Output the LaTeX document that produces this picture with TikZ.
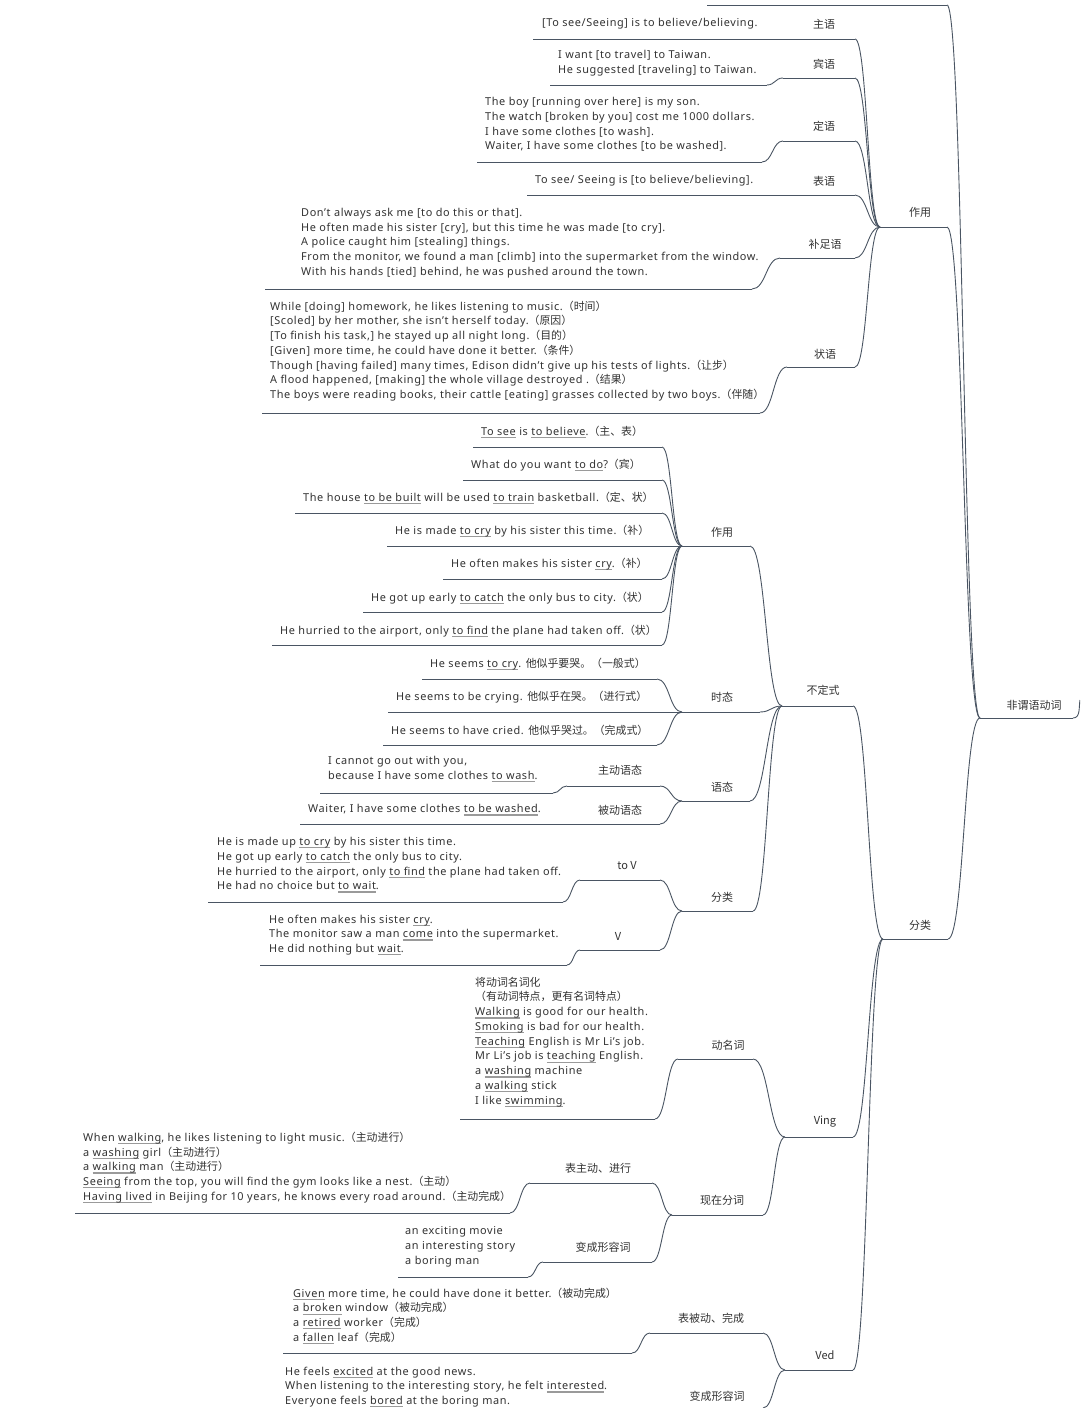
\documentclass[tikz,border=0pt]{standalone}
\usepackage{fontspec}
\setmainfont{Noto Sans}[LetterSpace=5.5]
\newfontfamily\zhf{Noto Sans CJK SC}
\usetikzlibrary{calc}
\definecolor{lnc}{HTML}{4A5563}
\definecolor{txc}{HTML}{333333}
\definecolor{ulc}{HTML}{9A9A9A}
\newcommand\gul[1]{\setbox0\hbox{#1}\rlap{\color{ulc}\rule[-2.8pt]{\wd0}{1.2pt}}\box0\relax}
\newcommand\zh[1]{{\zhf #1}}
\newcommand\fsA{\fontsize{10.9}{14.75}\selectfont}
\newcommand\fsL{\fontsize{11}{13}\selectfont}
\newcommand\mmline[4]{\coordinate (#1L) at (#2,#4); \coordinate (#1R) at (#3,#4); \draw[ln] (#1L) -- (#1R);}
\begin{document}
\begin{tikzpicture}[x=1pt,y=-1pt,
  ln/.style={draw=lnc, line width=0.9pt},
  mm/.style={to path={let \p1=(\tikztostart),\p2=(\tikztotarget),\n1={(\x1+\x2)/2} in .. controls (\n1,\y1) and (\n1,\y2) .. (\tikztotarget)}},
  txt/.style={anchor=west, align=left, inner sep=0pt, font=\fsA, text=txc},
  lab/.style={inner sep=0pt, font=\zhf\fsL, text=txc}]
\useasboundingbox (0,0) rectangle (1080,1408);
\fill[white] (0,0) rectangle (1080,1408);
\clip (0,0) rectangle (1080,1408);

% root
\node[lab] (nroot) at (1034,705) {非谓语动词};
\mmline{rt}{980}{1073}{718}
\coordinate (rtX) at (1080,700);
\draw[ln] (rtR) to[out=0,in=-100] (rtX);

% top cropped branch
\mmline{top}{707}{947}{5}
\draw[ln] (topR) to[mm] (rtL);

% ===== zuoyong (top) =====
\node[lab] (nzyA) at (920,212) {作用};
\mmline{zyA}{880}{947}{227}
\draw[ln] (zyAR) to[mm] (rtL);

% zhuyu
\node[txt] (tzhu) at (542,24) {[To see/Seeing] is to believe/believing.};
\node[lab] (lzhu) at (824,24) {主语};
\mmline{zhu}{533}{855}{39}
\draw[ln] (zhuR) to[mm] (zyAL);

% binyu
\node[txt] (tbin) at (558,63.5) {I want [to travel] to Taiwan.\\He suggested [traveling] to Taiwan.};
\node[lab] (lbin) at (824,64) {宾语};
\mmline{binA}{783}{855}{78}
\mmline{binB}{550}{767}{85}
\draw[ln] (binAR) to[mm] (zyAL);
\draw[ln] (binBR) to[mm] (binAL);

% dingyu
\node[txt] (tding) at (485,124.5) {The boy [running over here] is my son.\\The watch [broken by you] cost me 1000 dollars.\\I have some clothes [to wash].\\Waiter, I have some clothes [to be washed].};
\node[lab] (lding) at (824,126) {定语};
\mmline{dingA}{783}{855}{141}
\mmline{dingB}{477}{762}{162}
\draw[ln] (dingAR) to[mm] (zyAL);
\draw[ln] (dingBR) to[mm] (dingAL);

% biaoyu
\node[txt] (tbiao) at (535,181) {To see/ Seeing is [to believe/believing].};
\node[lab] (lbiao) at (824,181) {表语};
\mmline{biao}{527}{855}{195}
\draw[ln] (biaoR) to[mm] (zyAL);

% buzuyu
\node[txt] (tbu) at (301,243) {Don't always ask me [to do this or that].\\He often made his sister [cry], but this time he was made [to cry].\\A police caught him [stealing] things.\\From the monitor, we found a man [climb] into the supermarket from the window.\\With his hands [tied] behind, he was pushed around the town.};
\node[lab] (lbu) at (825,244) {补足语};
\mmline{buA}{780}{855}{258}
\mmline{buB}{265}{752}{289}
\draw[ln] (buAR) to[mm] (zyAL);
\draw[ln] (buBR) to[mm] (buAL);

% zhuangyu
\node[txt] (tzhg) at (270,351) {While [doing] homework, he likes listening to music.\zh{（时间）}\\\relax[Scoled] by her mother, she isn't herself today.\zh{（原因）}\\\relax[To finish his task,] he stayed up all night long.\zh{（目的）}\\\relax[Given] more time, he could have done it better.\zh{（条件）}\\Though [having failed] many times, Edison didn't give up his tests of lights.\zh{（让步）}\\A flood happened, [making] the whole village destroyed .\zh{（结果）}\\The boys were reading books, their cattle [eating] grasses collected by two boys.\zh{（伴随）}};
\node[lab] (lzhg) at (825,354) {状语};
\mmline{zhgA}{787}{855}{367}
\mmline{zhgB}{262}{760}{413}
\draw[ln] (zhgAR) to[mm] (zyAL);
\draw[ln] (zhgBR) to[mm] (zhgAL);

% ===== fenlei (top level) =====
\node[lab] (nflA) at (920,925) {分类};
\mmline{flA}{883}{948}{939}
\draw[ln] (flAR) to[mm] (rtL);

\node[lab] (nbds) at (823,690) {不定式};
\mmline{bds}{782}{853}{706}
\draw[ln] (bdsR) to[mm] (flAL);

\node[lab] (nving) at (825,1122) {Ving};
\mmline{ving}{785}{853}{1137}
\draw[ln] (vingR) to[mm] (flAL);

\node[lab] (nved) at (825,1355) {Ved};
\mmline{ved}{785}{853}{1370}
\draw[ln] (vedR) to[mm] (flAL);

% ----- zuoyong (infinitive) -----
\node[lab] (nzyB) at (722,532) {作用};
\mmline{zyB}{682}{750}{546}
\draw[ln] (zyBR) to[mm] (bdsL);

\node[txt] (s1) at (481,432) {\gul{To see} is \gul{to believe}.\zh{（主、表）}};
\mmline{u1}{473}{662}{447}
\draw[ln] (u1R) to[mm] (zyBL);
\node[txt] (s2) at (471,465) {What do you want \gul{to do}?\zh{（宾）}};
\mmline{u2}{463}{662}{480}
\draw[ln] (u2R) to[mm] (zyBL);
\node[txt] (s3) at (303,498) {The house \gul{to be built} will be used \gul{to train} basketball.\zh{（定、状）}};
\mmline{u3}{295}{662}{513}
\draw[ln] (u3R) to[mm] (zyBL);
\node[txt] (s4) at (395,531) {He is made \gul{to cry} by his sister this time.\zh{（补）}};
\mmline{u4}{387}{682}{546}
\node[txt] (s5) at (451,564) {He often makes his sister \gul{cry}.\zh{（补）}};
\mmline{u5}{443}{662}{579}
\draw[ln] (u5R) to[mm] (zyBL);
\node[txt] (s6) at (371,598) {He got up early \gul{to catch} the only bus to city.\zh{（状）}};
\mmline{u6}{363}{662}{612}
\draw[ln] (u6R) to[mm] (zyBL);
\node[txt] (s7) at (280,631) {He hurried to the airport, only \gul{to find} the plane had taken off.\zh{（状）}};
\mmline{u7}{272}{662}{645}
\draw[ln] (u7R) to[mm] (zyBL);

% ----- shitai -----
\node[lab] (nts) at (722,697) {时态};
\mmline{ts}{682}{760}{712}
\draw[ln] (tsR) to[mm] (bdsL);
\node[txt] (r1) at (430,664) {He seems \gul{to cry}. \zh{他似乎要哭。（一般式）}};
\mmline{v1}{422}{657}{679}
\draw[ln] (v1R) to[mm] (tsL);
\node[txt] (r2) at (396,697) {He seems to be crying. \zh{他似乎在哭。（进行式）}};
\mmline{v2}{388}{682}{712}
\node[txt] (r3) at (391,730) {He seems to have cried. \zh{他似乎哭过。（完成式）}};
\mmline{v3}{383}{657}{745}
\draw[ln] (v3R) to[mm] (tsL);

% ----- yutai -----
\node[lab] (nyt) at (722,787) {语态};
\mmline{yt}{682}{750}{801}
\draw[ln] (ytR) to[mm] (bdsL);
\node[lab] (nzd) at (620,770) {主动语态};
\mmline{zd}{567}{660}{786}
\draw[ln] (zdR) to[mm] (ytL);
\node[txt] (tzd) at (328,769.5) {I cannot go out with you,\\because I have some clothes \gul{to wash}.};
\mmline{zdB}{320}{553}{793}
\draw[ln] (zdBR) to[mm] (zdL);
\node[lab] (nbd) at (620,810) {被动语态};
\node[txt] (tbd) at (308,810) {Waiter, I have some clothes \gul{to be washed}.};
\mmline{bd}{300}{660}{824}
\draw[ln] (bdR) to[mm] (ytL);

% ----- fenlei (infinitive) -----
\node[lab] (nflB) at (722,897) {分类};
\mmline{flB}{682}{753}{911}
\draw[ln] (flBR) to[mm] (bdsL);
\node[lab] (ntv) at (627,866) {to V};
\mmline{tv}{580}{660}{880}
\draw[ln] (tvR) to[mm] (flBL);
\node[txt] (ttv) at (217,865) {He is made up \gul{to cry} by his sister this time.\\He got up early \gul{to catch} the only bus to city.\\He hurried to the airport, only \gul{to find} the plane had taken off.\\He had no choice but \gul{to wait}.};
\mmline{tvB}{208}{563}{902}
\draw[ln] (tvBR) to[mm] (tvL);
\node[lab] (nvv) at (618,936) {V};
\mmline{vv}{580}{660}{950}
\draw[ln] (vvR) to[mm] (flBL);
\node[txt] (tvv) at (269,935) {He often makes his sister \gul{cry}.\\The monitor saw a man \gul{come} into the supermarket.\\He did nothing but \gul{wait}.};
\mmline{vvB}{260}{567}{965}
\draw[ln] (vvBR) to[mm] (vvL);

% ----- Ving -----
\node[lab] (ndmc) at (728,1045) {动名词};
\mmline{dmc}{678}{753}{1059}
\draw[ln] (dmcR) to[mm] (vingL);
\node[txt] (tdmc) at (475,1042) {\zh{将动词名词化}\\\zh{（有动词特点，更有名词特点）}\\\gul{Walking} is good for our health.\\\gul{Smoking} is bad for our health.\\\gul{Teaching} English is Mr Li's job.\\Mr Li's job is \gul{teaching} English.\\a \gul{washing} machine\\a \gul{walking} stick\\I like \gul{swimming}.};
\mmline{dmcB}{460}{655}{1119}
\draw[ln] (dmcBR) to[mm] (dmcL);

\node[lab] (nxz) at (722,1200) {现在分词};
\mmline{xz}{672}{763}{1215}
\draw[ln] (xzR) to[mm] (vingL);
\node[lab] (nbzd) at (598,1168) {表主动、进行};
\mmline{bzd}{530}{652}{1183}
\draw[ln] (bzdR) to[mm] (xzL);
\node[txt] (tbzd) at (83,1167.5) {When \gul{walking}, he likes listening to light music.\zh{（主动进行）}\\a \gul{washing} girl\zh{（主动进行）}\\a \gul{walking} man\zh{（主动进行）}\\\gul{Seeing} from the top, you will find the gym looks like a nest.\zh{（主动）}\\\gul{Having lived} in Beijing for 10 years, he knows every road around.\zh{（主动完成）}};
\mmline{bzdB}{75}{510}{1213}
\draw[ln] (bzdBR) to[mm] (bzdL);
\node[lab] (nbcx) at (603,1247) {变成形容词};
\mmline{bcx}{543}{652}{1262}
\draw[ln] (bcxR) to[mm] (xzL);
\node[txt] (tbcx) at (405,1247) {an exciting movie\\an interesting story\\a boring man};
\mmline{bcxB}{398}{528}{1277}
\draw[ln] (bcxBR) to[mm] (bcxL);

% ----- Ved -----
\node[lab] (nbbd) at (711,1318) {表被动、完成};
\mmline{bbd}{650}{763}{1333}
\draw[ln] (bbdR) to[mm] (vedL);
\node[txt] (tbbd) at (293,1316) {\gul{Given} more time, he could have done it better.\zh{（被动完成）}\\a \gul{broken} window\zh{（被动完成）}\\a \gul{retired} worker\zh{（完成）}\\a \gul{fallen} leaf\zh{（完成）}};
\mmline{bbdB}{283}{632}{1353}
\draw[ln] (bbdBR) to[mm] (bbdL);
\node[lab] (nbcy) at (717,1396) {变成形容词};
\mmline{bcy}{650}{763}{1408}
\draw[ln] (bcyR) to[mm] (vedL);
\node[txt] (tbcy) at (285,1387) {He feels \gul{excited} at the good news.\\When listening to the interesting story, he felt \gul{interested}.\\Everyone feels \gul{bored} at the boring man.};
\end{tikzpicture}
\end{document}
